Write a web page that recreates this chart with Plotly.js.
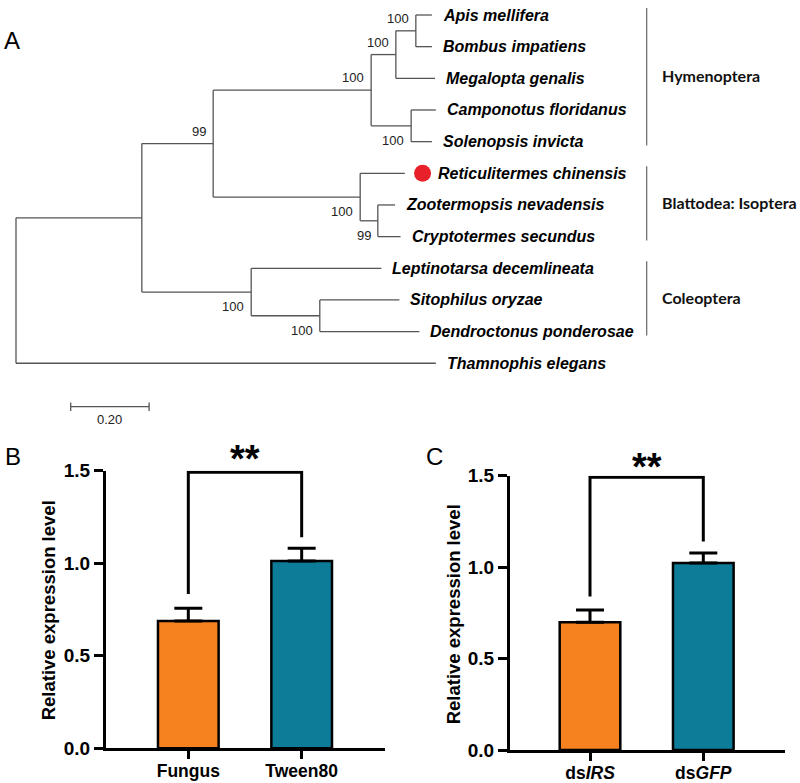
<!DOCTYPE html>
<html><head><meta charset="utf-8">
<script src="https://cdn.plot.ly/plotly-3.0.1.min.js"></script>
<style>html,body{margin:0;padding:0;background:#fff}#chart{width:800px;height:783px}</style>
</head><body><div id="chart"></div>
<script>
// ================= DATA =================
// Panel A: phylogenetic tree (depth = cumulative branch length from root)
const tipLabels = ['Apis mellifera','Bombus impatiens','Megalopta genalis','Camponotus floridanus','Solenopsis invicta','Reticulitermes chinensis','Zootermopsis nevadensis','Cryptotermes secundus','Leptinotarsa decemlineata','Sitophilus oryzae','Dendroctonus ponderosae','Thamnophis elegans'];
const tipParent = ['N6','N6','N5','N7','N7','N8','N9','N9','N10','N11','N11','N1'];
const tipDepth = [1.061,1.061,1.069,1.071,1.061,0.992,0.967,0.981,0.932,0.978,1.029,1.071];
const nodeIds = ['N1','N2','N3','N4','N5','N6','N7','N8','N9','N10','N11'];
const nodeParent = [null,'N1','N2','N3','N4','N5','N4','N3','N8','N2','N10'];
const nodeDepth = [0,0.321,0.503,0.906,0.969,1.020,1.008,0.878,0.923,0.600,0.775];
const nodeSupport = [null,null,99,100,100,100,100,100,99,100,100];
const nodeSupportSide = [null,null,'above','above','above','above','below','below','below','below','below'];
const highlightTaxon = 'Reticulitermes chinensis';
const groupNames = ['Hymenoptera','Blattodea: Isoptera','Coleoptera'];
const groupFirstTip = [0,5,8];
const groupLastTip = [4,7,10];
const scaleBarLength = 0.20;
const scaleBarLabel = '0.20';

// Panel B
const categoriesB = ['Fungus','Tween80'];
const meansB = [0.688, 1.012];
const errorsB = [0.069, 0.069];
const bracketB = [0.834, 1.492, 1.492, 1.14];
const sigB = '**';
// Panel C
const categoriesC = ['ds<i>IRS</i>','ds<i>GFP</i>'];
const meansC = [0.699, 1.022];
const errorsC = [0.066, 0.055];
const bracketC = [0.839, 1.492, 1.492, 1.14];
const sigC = '**';
const barColors = ['#F5821F','#0C7C98'];
const yTicks = [0, 0.5, 1.0, 1.5];

// ================= LAYOUT HELPERS =================
const W = 800, H = 783;
const PXU = 392;      // px per branch-length unit
const TIPSP = 31.66;  // px per tip
const TREE_X0 = 16, TREE_Y0 = 15, TREE_H = 440;
const ARIAL = 'Liberation Sans, Arial, sans-serif';

// ---- build tree geometry ----
const children = {};
nodeIds.forEach(id => children[id] = []);
nodeIds.forEach((id, i) => { if (nodeParent[i]) children[nodeParent[i]].push({type:'node', id}); });
tipLabels.forEach((t, i) => children[tipParent[i]].push({type:'tip', i}));
const nodeY = {};
function yOf(c) { return c.type === 'tip' ? c.i : computeY(c.id); }
function computeY(id) {
  if (nodeY[id] !== undefined) return nodeY[id];
  const ys = children[id].map(yOf);
  nodeY[id] = (Math.min(...ys) + Math.max(...ys)) / 2;
  return nodeY[id];
}
nodeIds.forEach(computeY);
const depthOf = id => nodeDepth[nodeIds.indexOf(id)];

const tx = [], ty = [];
nodeIds.forEach((id) => {
  const ys = children[id].map(yOf);
  tx.push(depthOf(id), depthOf(id), null); ty.push(Math.min(...ys), Math.max(...ys), null);
});
nodeIds.forEach((id, i) => {
  if (nodeParent[i]) { tx.push(depthOf(nodeParent[i]), nodeDepth[i], null); ty.push(nodeY[id], nodeY[id], null); }
});
tipLabels.forEach((t, i) => { tx.push(depthOf(tipParent[i]), tipDepth[i], null); ty.push(i, i, null); });

const traces = [];
traces.push({type:'scatter', mode:'lines', x:tx, y:ty, xaxis:'x', yaxis:'y',
  line:{color:'#555', width:1.3}, hoverinfo:'skip', cliponaxis:false});

const hi = tipLabels.indexOf(highlightTaxon);
traces.push({type:'scatter', mode:'markers', x:[tipDepth[hi] + 17.7/PXU], y:[hi], xaxis:'x', yaxis:'y',
  marker:{color:'#E8202A', size:17}, hoverinfo:'skip', cliponaxis:false});

// group brackets
const bracketX = (646.7 - TREE_X0) / PXU;
const gx = [], gy = [];
groupNames.forEach((g, k) => { gx.push(bracketX, bracketX, null); gy.push(groupFirstTip[k] - 0.22, groupLastTip[k] + 0.12, null); });
traces.push({type:'scatter', mode:'lines', x:gx, y:gy, xaxis:'x', yaxis:'y',
  line:{color:'#666', width:1.2}, hoverinfo:'skip', cliponaxis:false});

// scale bar
const sbX0 = (70.7 - TREE_X0) / PXU, sbY = (406.7 - TREE_Y0) / TIPSP, sbT = 4.2 / TIPSP;
traces.push({type:'scatter', mode:'lines', xaxis:'x', yaxis:'y', hoverinfo:'skip', cliponaxis:false,
  x:[sbX0, sbX0 + scaleBarLength, null, sbX0, sbX0, null, sbX0 + scaleBarLength, sbX0 + scaleBarLength],
  y:[sbY, sbY, null, sbY - sbT, sbY + sbT, null, sbY - sbT, sbY + sbT],
  line:{color:'#555', width:1.3}});

// ---- bars ----
function barTraces(means, errs, bracket, xa, ya) {
  return [
    {type:'bar', x:[0,1], y:means, width:0.535, xaxis:xa, yaxis:ya, hoverinfo:'skip',
     marker:{color:barColors, line:{color:'#000', width:2.5}},
     error_y:{type:'data', array:errs, arrayminus:[0,0], symmetric:false, thickness:3, width:14, color:'#000'}},
    {type:'scatter', mode:'lines', x:[0,0,1,1], y:bracket, xaxis:xa, yaxis:ya, cliponaxis:false,
     line:{color:'#000', width:3}, hoverinfo:'skip'}
  ];
}
traces.push(...barTraces(meansB, errorsB, bracketB, 'x2', 'y2'));
traces.push(...barTraces(meansC, errorsC, bracketC, 'x3', 'y3'));

// ---- annotations ----
const ann = [];
tipLabels.forEach((t, i) => ann.push({x:tipDepth[i], y:i, xref:'x', yref:'y', text:t, showarrow:false,
  xanchor:'left', yanchor:'middle', xshift: i === hi ? 31 : 9,
  font:{family:ARIAL, size:16, weight:'bold', style:'italic', color:'#000'}}));
nodeIds.forEach((id, i) => { if (nodeSupport[i] != null) ann.push({x:nodeDepth[i], y:nodeY[id], xref:'x', yref:'y',
  text:String(nodeSupport[i]), showarrow:false, xanchor:'right', yanchor:'middle', xshift:-5,
  yshift: nodeSupportSide[i] === 'above' ? 12.5 : -14.5, font:{family:ARIAL, size:13, color:'#222'}}); });
groupNames.forEach((g, k) => ann.push({x:bracketX, y:(groupFirstTip[k] + groupLastTip[k]) / 2 - 0.08, xref:'x', yref:'y',
  text:g, showarrow:false, xanchor:'left', yanchor:'middle', xshift:13,
  font:{family:'Lato, Open Sans, sans-serif', size:16, weight:'bold', color:'#111'}}));
ann.push({x:sbX0 + scaleBarLength / 2, y:(419.3 - TREE_Y0) / TIPSP, xref:'x', yref:'y', text:scaleBarLabel,
  showarrow:false, font:{family:ARIAL, size:13, color:'#222'}});

const pxX = px => px / W, pxY = py => 1 - py / H;
[['A',12,40],['B',13,456],['C',434,456]].forEach(([t,x,y]) => ann.push({x:pxX(x), y:pxY(y), xref:'paper', yref:'paper',
  text:t, showarrow:false, xanchor:'center', yanchor:'middle', font:{family:ARIAL, size:24, color:'#000'}}));
[[48.3,610],[453.3,614]].forEach(([x,y]) => ann.push({x:pxX(x), y:pxY(y), xref:'paper', yref:'paper',
  text:'Relative expression level', textangle:-90, showarrow:false, xanchor:'center', yanchor:'middle',
  font:{family:ARIAL, size:18.5, weight:'bold', color:'#000'}}));
ann.push({x:0.5, y:1.5, xref:'x2', yref:'y2', text:sigB, showarrow:false, yshift:12,
  font:{family:ARIAL, size:38, weight:'bold', color:'#000'}});
ann.push({x:0.5, y:1.5, xref:'x3', yref:'y3', text:sigC, showarrow:false, yshift:9,
  font:{family:ARIAL, size:38, weight:'bold', color:'#000'}});

function xAx(dom, rng, ticktext, anchor) {
  return {domain:dom, range:rng, anchor:anchor, tickvals:[0,1], ticktext:ticktext, ticks:'outside', ticklen:8, tickwidth:3,
    tickcolor:'#000', showline:true, linewidth:3, linecolor:'#000', showgrid:false, zeroline:false, fixedrange:true,
    ticklabelstandoff:-3,
    tickfont:{family:ARIAL, size:17.5, weight:'bold', color:'#000'}};
}
function yAx(dom, anchor) {
  return {domain:dom, range:[0,1.5], anchor:anchor, tickvals:yTicks, tickformat:'.1f', ticks:'outside', ticklen:9, tickwidth:3,
    tickcolor:'#000', showline:true, linewidth:3, linecolor:'#000', showgrid:false, zeroline:false, fixedrange:true,
    tickfont:{family:ARIAL, size:19, weight:'bold', color:'#000'}};
}

const layout = {
  width:W, height:H, margin:{l:0, r:0, t:0, b:0}, showlegend:false,
  paper_bgcolor:'#fff', plot_bgcolor:'rgba(0,0,0,0)',
  xaxis:{domain:[0,1], range:[-TREE_X0 / PXU, (W - TREE_X0) / PXU], visible:false, fixedrange:true},
  yaxis:{domain:[1 - TREE_H / H, 1], range:[(TREE_H - TREE_Y0) / TIPSP, -TREE_Y0 / TIPSP], visible:false, fixedrange:true},
  xaxis2:xAx([106 / W, 385 / W], [-0.726, 1.735], categoriesB, 'y2'),
  yaxis2:yAx([(H - 748.3) / H, (H - 470.7) / H], 'x2'),
  xaxis3:xAx([510 / W, 785 / W], [-0.706, 1.721], categoriesC, 'y3'),
  yaxis3:yAx([(H - 750) / H, (H - 475.7) / H], 'x3'),
  annotations:ann
};
Plotly.newPlot('chart', traces, layout, {displayModeBar:false, staticPlot:true});
</script></body></html>
